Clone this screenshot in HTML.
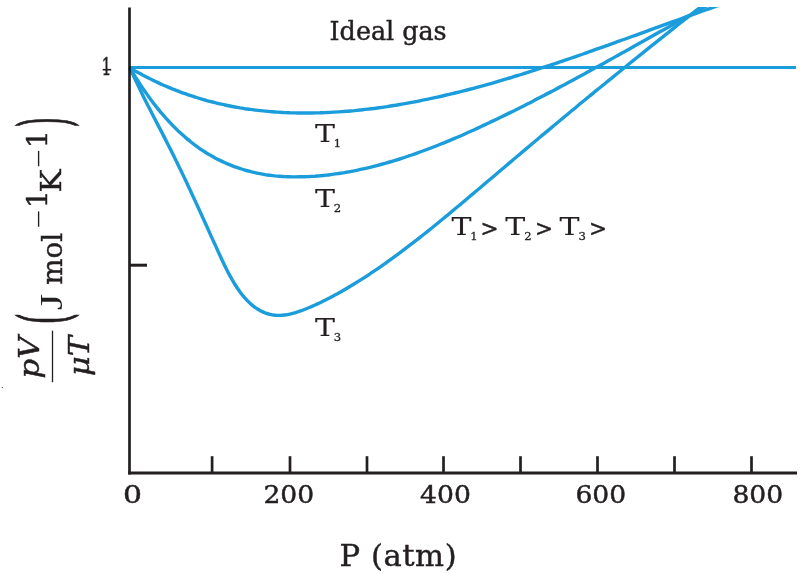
<!DOCTYPE html>
<html><head><meta charset="utf-8"><title>Compressibility</title>
<style>
html,body{margin:0;padding:0;background:#fff;}
svg{display:block;}
text{font-family:"DejaVu Serif", "Liberation Serif", serif;fill:#231f20;stroke:#231f20;stroke-width:0.45px;}
</style></head><body>
<svg width="804" height="574" viewBox="0 0 804 574">
<rect width="804" height="574" fill="#fff"/>
<defs><clipPath id="cl"><rect x="120" y="7" width="690" height="500"/></clipPath></defs>
<g>
<line x1="129.5" y1="7.5" x2="129.5" y2="474.6" stroke="#231f20" stroke-width="2.7"/>
<line x1="128.2" y1="473.1" x2="797" y2="473.1" stroke="#231f20" stroke-width="3"/>
<line x1="129" y1="265.2" x2="147" y2="265.2" stroke="#231f20" stroke-width="3"/>
<line x1="212.1" y1="456.2" x2="212.1" y2="473" stroke="#231f20" stroke-width="2.7"/><line x1="290.0" y1="456.2" x2="290.0" y2="473" stroke="#231f20" stroke-width="2.7"/><line x1="367.0" y1="456.2" x2="367.0" y2="473" stroke="#231f20" stroke-width="2.7"/><line x1="443.5" y1="456.2" x2="443.5" y2="473" stroke="#231f20" stroke-width="2.7"/><line x1="520.5" y1="456.2" x2="520.5" y2="473" stroke="#231f20" stroke-width="2.7"/><line x1="597.5" y1="456.2" x2="597.5" y2="473" stroke="#231f20" stroke-width="2.7"/><line x1="674.5" y1="456.2" x2="674.5" y2="473" stroke="#231f20" stroke-width="2.7"/><line x1="751.5" y1="456.2" x2="751.5" y2="473" stroke="#231f20" stroke-width="2.7"/>
</g>
<g fill="none" stroke="#1c9ddb" stroke-width="3.4" clip-path="url(#cl)" stroke-linecap="butt" style="mix-blend-mode:multiply">
<line x1="129.2" y1="67.5" x2="796" y2="67.5" stroke-width="3"/>
<path d="M130.0 68.0 C130.8 68.5 133.3 69.9 135.0 70.9 C136.7 71.8 138.3 72.7 140.0 73.6 C141.7 74.5 143.3 75.4 145.0 76.3 C146.7 77.1 148.3 78.0 150.0 78.8 C151.7 79.6 153.3 80.5 155.0 81.2 C156.7 82.0 158.3 82.8 160.0 83.6 C161.7 84.3 163.3 85.1 165.0 85.8 C166.7 86.5 168.3 87.2 170.0 87.9 C171.7 88.6 173.3 89.3 175.0 89.9 C176.7 90.6 178.3 91.2 180.0 91.9 C181.7 92.5 183.3 93.1 185.0 93.7 C186.7 94.3 188.3 94.8 190.0 95.4 C191.7 96.0 193.3 96.5 195.0 97.0 C196.7 97.6 198.3 98.1 200.0 98.6 C201.7 99.1 203.3 99.6 205.0 100.0 C206.7 100.5 208.3 101.0 210.0 101.4 C211.7 101.9 213.3 102.3 215.0 102.7 C216.7 103.1 218.3 103.5 220.0 103.9 C221.7 104.3 223.3 104.6 225.0 105.0 C226.7 105.4 228.3 105.7 230.0 106.0 C231.7 106.4 233.3 106.7 235.0 107.0 C236.7 107.3 238.3 107.6 240.0 107.9 C241.7 108.1 243.3 108.4 245.0 108.7 C246.7 108.9 248.3 109.2 250.0 109.4 C251.7 109.6 253.3 109.8 255.0 110.1 C256.7 110.3 258.3 110.5 260.0 110.6 C261.7 110.8 263.3 111.0 265.0 111.1 C266.7 111.3 268.3 111.5 270.0 111.6 C271.7 111.7 273.3 111.9 275.0 112.0 C276.7 112.1 278.3 112.2 280.0 112.3 C281.7 112.4 283.3 112.5 285.0 112.6 C286.7 112.6 288.3 112.7 290.0 112.8 C291.7 112.8 293.3 112.9 295.0 112.9 C296.7 112.9 298.3 113.0 300.0 113.0 C301.7 113.0 303.3 113.0 305.0 113.0 C306.7 113.0 308.3 113.0 310.0 113.0 C311.7 113.0 313.3 112.9 315.0 112.9 C316.7 112.9 318.3 112.8 320.0 112.8 C321.7 112.7 323.3 112.7 325.0 112.6 C326.7 112.5 327.8 112.5 330.0 112.4 C332.2 112.3 335.4 112.1 338.2 111.9 C340.9 111.7 343.6 111.5 346.3 111.3 C349.0 111.1 351.8 110.8 354.5 110.6 C357.2 110.3 359.9 110.0 362.7 109.7 C365.4 109.5 368.1 109.1 370.8 108.8 C373.5 108.5 376.3 108.1 379.0 107.7 C381.7 107.4 384.4 107.0 387.1 106.6 C389.9 106.1 392.6 105.7 395.3 105.3 C398.0 104.8 400.7 104.4 403.5 103.9 C406.2 103.4 408.9 102.9 411.6 102.4 C414.4 101.9 417.1 101.4 419.8 100.8 C422.5 100.3 425.2 99.7 428.0 99.1 C430.7 98.6 433.4 98.0 436.1 97.4 C438.8 96.8 441.6 96.2 444.3 95.5 C447.0 94.9 449.7 94.3 452.4 93.6 C455.2 92.9 457.9 92.3 460.6 91.6 C463.3 90.9 466.1 90.2 468.8 89.5 C471.5 88.8 474.2 88.1 476.9 87.3 C479.7 86.6 482.4 85.8 485.1 85.1 C487.8 84.3 490.5 83.6 493.3 82.8 C496.0 82.0 498.7 81.2 501.4 80.4 C504.1 79.6 506.9 78.8 509.6 78.0 C512.3 77.2 515.0 76.3 517.8 75.5 C520.5 74.7 523.2 73.8 525.9 73.0 C528.6 72.1 531.4 71.3 534.1 70.4 C536.8 69.5 539.5 68.6 542.2 67.7 C545.0 66.9 547.7 66.0 550.4 65.1 C553.1 64.2 555.9 63.3 558.6 62.3 C561.3 61.4 564.0 60.5 566.7 59.6 C569.5 58.7 572.2 57.7 574.9 56.8 C577.6 55.9 580.3 54.9 583.1 54.0 C585.8 53.0 588.5 52.1 591.2 51.1 C593.9 50.2 596.7 49.2 599.4 48.2 C602.1 47.3 604.8 46.3 607.6 45.3 C610.3 44.4 613.0 43.4 615.7 42.4 C618.4 41.4 621.2 40.5 623.9 39.5 C626.6 38.5 629.3 37.5 632.0 36.5 C634.8 35.6 637.5 34.6 640.2 33.6 C642.9 32.6 645.6 31.6 648.4 30.6 C651.1 29.6 653.8 28.7 656.5 27.7 C659.3 26.7 662.0 25.7 664.7 24.7 C667.4 23.7 670.1 22.7 672.9 21.7 C675.6 20.8 678.3 19.8 681.0 18.8 C683.7 17.8 686.5 16.8 689.2 15.9 C691.9 14.9 694.6 13.9 697.3 12.9 C700.1 12.0 702.8 11.0 705.5 10.0 C708.2 9.1 711.0 8.1 713.7 7.2 C716.4 6.2 719.1 5.2 721.8 4.3 C724.6 3.3 728.6 1.9 730.0 1.5"/>
<path d="M130.0 68.0 C130.8 69.4 133.3 73.6 135.0 76.3 C136.7 78.9 138.3 81.5 140.0 84.1 C141.7 86.6 143.3 89.1 145.0 91.5 C146.7 93.9 148.3 96.2 150.0 98.5 C151.7 100.8 153.3 103.0 155.0 105.1 C156.7 107.2 158.3 109.3 160.0 111.3 C161.7 113.3 163.3 115.3 165.0 117.2 C166.7 119.0 168.3 120.9 170.0 122.6 C171.7 124.4 173.3 126.1 175.0 127.8 C176.7 129.4 178.3 131.0 180.0 132.6 C181.7 134.1 183.3 135.6 185.0 137.1 C186.7 138.5 188.3 139.9 190.0 141.2 C191.7 142.6 193.3 143.9 195.0 145.1 C196.7 146.4 198.3 147.5 200.0 148.7 C201.7 149.8 203.3 150.9 205.0 152.0 C206.7 153.1 208.3 154.1 210.0 155.1 C211.7 156.0 213.3 157.0 215.0 157.9 C216.7 158.8 218.3 159.6 220.0 160.4 C221.7 161.2 223.3 162.0 225.0 162.8 C226.7 163.5 228.3 164.2 230.0 164.9 C231.7 165.6 233.3 166.2 235.0 166.8 C236.7 167.4 238.3 168.0 240.0 168.5 C241.7 169.1 243.3 169.6 245.0 170.1 C246.7 170.6 248.3 171.0 250.0 171.4 C251.7 171.9 253.3 172.3 255.0 172.6 C256.7 173.0 258.3 173.4 260.0 173.7 C261.7 174.0 263.3 174.3 265.0 174.6 C266.7 174.8 268.3 175.1 270.0 175.3 C271.7 175.5 273.3 175.7 275.0 175.9 C276.7 176.0 278.3 176.2 280.0 176.3 C281.7 176.4 283.3 176.5 285.0 176.6 C286.7 176.7 288.3 176.8 290.0 176.8 C291.7 176.8 293.3 176.9 295.0 176.9 C296.7 176.9 298.3 176.9 300.0 176.8 C301.7 176.8 303.3 176.8 305.0 176.7 C306.7 176.6 308.3 176.6 310.0 176.5 C311.7 176.4 313.3 176.3 315.0 176.2 C316.7 176.0 318.3 175.9 320.0 175.8 C321.7 175.6 323.3 175.4 325.0 175.3 C326.7 175.1 327.8 175.0 330.0 174.7 C332.2 174.4 335.3 174.0 338.0 173.6 C340.6 173.2 343.3 172.8 345.9 172.3 C348.6 171.9 351.2 171.4 353.9 170.9 C356.5 170.3 359.2 169.8 361.8 169.2 C364.5 168.6 367.1 168.0 369.8 167.4 C372.4 166.7 375.1 166.0 377.8 165.3 C380.4 164.6 383.1 163.9 385.7 163.2 C388.4 162.4 391.0 161.6 393.7 160.8 C396.3 160.0 399.0 159.2 401.6 158.3 C404.3 157.5 406.9 156.6 409.6 155.7 C412.2 154.8 414.9 153.9 417.6 152.9 C420.2 152.0 422.9 151.0 425.5 150.0 C428.2 149.0 430.8 148.0 433.5 147.0 C436.1 146.0 438.8 144.9 441.4 143.8 C444.1 142.8 446.7 141.7 449.4 140.6 C452.0 139.5 454.7 138.3 457.3 137.2 C460.0 136.1 462.7 134.9 465.3 133.7 C468.0 132.6 470.6 131.4 473.3 130.2 C475.9 129.0 478.6 127.7 481.2 126.5 C483.9 125.3 486.5 124.0 489.2 122.8 C491.8 121.5 494.5 120.3 497.1 119.0 C499.8 117.7 502.4 116.4 505.1 115.1 C507.8 113.8 510.4 112.5 513.1 111.2 C515.7 109.9 518.4 108.5 521.0 107.2 C523.7 105.9 526.3 104.5 529.0 103.2 C531.6 101.8 534.3 100.5 536.9 99.1 C539.6 97.7 542.2 96.3 544.9 94.9 C547.6 93.6 550.2 92.2 552.9 90.8 C555.5 89.4 558.2 88.0 560.8 86.5 C563.5 85.1 566.1 83.7 568.8 82.3 C571.4 80.9 574.1 79.4 576.7 78.0 C579.4 76.5 582.0 75.1 584.7 73.7 C587.3 72.2 590.0 70.8 592.7 69.3 C595.3 67.8 598.0 66.4 600.6 64.9 C603.3 63.5 605.9 62.0 608.6 60.5 C611.2 59.1 613.9 57.6 616.5 56.1 C619.2 54.6 621.8 53.1 624.5 51.7 C627.1 50.2 629.8 48.7 632.4 47.2 C635.1 45.7 637.8 44.2 640.4 42.8 C643.1 41.3 645.7 39.8 648.4 38.3 C651.0 36.8 653.7 35.3 656.3 33.8 C659.0 32.3 661.6 30.9 664.3 29.4 C666.9 27.9 669.6 26.4 672.2 24.9 C674.9 23.4 677.6 21.9 680.2 20.5 C682.9 19.0 685.5 17.5 688.2 16.0 C690.8 14.6 693.5 13.1 696.1 11.6 C698.8 10.1 701.4 8.7 704.1 7.2 C706.7 5.7 709.4 4.3 712.0 2.8 C714.7 1.4 718.7 -0.8 720.0 -1.6"/>
<path d="M130.0 68.0 C130.8 69.8 133.3 75.4 135.0 79.0 C136.7 82.6 138.3 86.1 140.0 89.5 C141.7 93.0 143.3 96.3 145.0 99.7 C146.7 103.0 148.3 106.3 150.0 109.6 C151.7 112.8 153.3 116.1 155.0 119.3 C156.7 122.5 158.3 125.7 160.0 128.9 C161.7 132.1 163.3 135.3 165.0 138.6 C166.7 141.8 168.3 145.1 170.0 148.4 C171.7 151.7 173.3 155.0 175.0 158.4 C176.7 161.8 178.3 165.2 180.0 168.7 C181.7 172.1 183.3 175.6 185.0 179.1 C186.7 182.6 188.3 186.2 190.0 189.8 C191.7 193.4 193.3 197.0 195.0 200.6 C196.7 204.2 198.3 207.9 200.0 211.5 C201.7 215.2 203.3 218.8 205.0 222.5 C206.7 226.2 208.3 229.9 210.0 233.6 C211.7 237.3 213.3 241.0 215.0 244.6 C216.7 248.3 218.3 252.0 220.0 255.6 C221.7 259.2 223.3 262.8 225.0 266.1 C226.7 269.5 228.3 272.8 230.0 275.9 C231.7 278.9 233.3 281.8 235.0 284.5 C236.7 287.2 238.3 289.6 240.0 291.9 C241.7 294.2 243.3 296.2 245.0 298.1 C246.7 300.0 248.3 301.7 250.0 303.2 C251.7 304.8 253.3 306.1 255.0 307.4 C256.7 308.6 258.3 309.6 260.0 310.5 C261.7 311.5 263.3 312.2 265.0 312.9 C266.7 313.5 268.3 314.0 270.0 314.4 C271.7 314.8 273.3 315.0 275.0 315.2 C276.7 315.4 278.3 315.4 280.0 315.4 C281.7 315.4 283.3 315.2 285.0 315.0 C286.7 314.8 288.3 314.5 290.0 314.1 C291.7 313.8 293.3 313.3 295.0 312.8 C296.7 312.3 298.3 311.8 300.0 311.2 C301.7 310.6 303.3 310.0 305.0 309.3 C306.7 308.6 308.3 307.9 310.0 307.2 C311.7 306.5 313.3 305.7 315.0 305.0 C316.7 304.2 318.3 303.5 320.0 302.7 C321.7 301.9 323.3 301.0 325.0 300.2 C326.7 299.4 327.9 298.8 330.0 297.7 C332.1 296.5 335.2 294.9 337.9 293.5 C340.5 292.0 343.1 290.5 345.7 289.0 C348.3 287.5 351.0 285.9 353.6 284.3 C356.2 282.7 358.8 281.1 361.4 279.4 C364.0 277.8 366.7 276.1 369.3 274.3 C371.9 272.6 374.5 270.8 377.1 269.1 C379.8 267.3 382.4 265.4 385.0 263.6 C387.6 261.7 390.2 259.8 392.9 257.9 C395.5 256.0 398.1 254.1 400.7 252.2 C403.3 250.2 406.0 248.2 408.6 246.2 C411.2 244.2 413.8 242.2 416.4 240.2 C419.0 238.1 421.7 236.1 424.3 234.0 C426.9 231.9 429.5 229.8 432.1 227.7 C434.8 225.6 437.4 223.5 440.0 221.3 C442.6 219.2 445.2 217.0 447.9 214.9 C450.5 212.7 453.1 210.5 455.7 208.3 C458.3 206.2 461.0 204.0 463.6 201.8 C466.2 199.6 468.8 197.4 471.4 195.1 C474.0 192.9 476.7 190.7 479.3 188.5 C481.9 186.3 484.5 184.1 487.1 181.8 C489.8 179.6 492.4 177.4 495.0 175.2 C497.6 172.9 500.2 170.7 502.9 168.5 C505.5 166.3 508.1 164.1 510.7 161.9 C513.3 159.6 516.0 157.4 518.6 155.2 C521.2 153.0 523.8 150.8 526.4 148.6 C529.0 146.4 531.7 144.2 534.3 142.0 C536.9 139.8 539.5 137.6 542.1 135.4 C544.8 133.2 547.4 131.1 550.0 128.9 C552.6 126.7 555.2 124.5 557.9 122.3 C560.5 120.2 563.1 118.0 565.7 115.8 C568.3 113.6 571.0 111.5 573.6 109.3 C576.2 107.1 578.8 105.0 581.4 102.8 C584.0 100.7 586.7 98.5 589.3 96.3 C591.9 94.2 594.5 92.0 597.1 89.9 C599.8 87.8 602.4 85.6 605.0 83.5 C607.6 81.3 610.2 79.2 612.9 77.1 C615.5 74.9 618.1 72.8 620.7 70.7 C623.3 68.6 626.0 66.4 628.6 64.3 C631.2 62.2 633.8 60.1 636.4 58.0 C639.0 55.9 641.7 53.8 644.3 51.7 C646.9 49.6 649.5 47.5 652.1 45.4 C654.8 43.3 657.4 41.2 660.0 39.1 C662.6 37.0 665.2 34.9 667.9 32.8 C670.5 30.8 673.1 28.7 675.7 26.6 C678.3 24.5 681.0 22.5 683.6 20.4 C686.2 18.3 688.8 16.3 691.4 14.2 C694.0 12.2 696.7 10.1 699.3 8.1 C701.9 6.0 704.5 4.0 707.1 2.0 C709.8 -0.1 713.7 -3.1 715.0 -4.1"/>
</g>
<text x="329.6" y="40" font-size="25.4">Ideal gas</text>
<text x="123.1" y="503" font-size="24.4" textLength="19" lengthAdjust="spacingAndGlyphs">0</text>
<text x="263.4" y="503" font-size="24.4" textLength="50.8" lengthAdjust="spacingAndGlyphs">200</text>
<text x="420.1" y="503" font-size="24.4" textLength="50.8" lengthAdjust="spacingAndGlyphs">400</text>
<text x="575.4" y="503" font-size="24.4" textLength="50.8" lengthAdjust="spacingAndGlyphs">600</text>
<text x="732.4" y="503" font-size="24.4" textLength="50.8" lengthAdjust="spacingAndGlyphs">800</text>
<text x="339.6" y="565.5" font-size="30.6" letter-spacing="0.55">P (atm)</text>
<text x="314.9" y="142.1" font-size="24" textLength="20" lengthAdjust="spacingAndGlyphs" style="stroke-width:0.1px">T</text><text x="333.8" y="147.3" font-size="11.6" style="stroke-width:0.3px">1</text>
<text x="314.9" y="206.7" font-size="24" textLength="20" lengthAdjust="spacingAndGlyphs" style="stroke-width:0.1px">T</text><text x="333.8" y="211.9" font-size="11.6" style="stroke-width:0.3px">2</text>
<text x="314.9" y="335.5" font-size="24" textLength="20" lengthAdjust="spacingAndGlyphs" style="stroke-width:0.1px">T</text><text x="333.8" y="340.7" font-size="11.6" style="stroke-width:0.3px">3</text>
<text x="451.4" y="235.1" font-size="24" textLength="20" lengthAdjust="spacingAndGlyphs" style="stroke-width:0.1px">T</text><text x="470.3" y="240.3" font-size="11.6" style="stroke-width:0.3px">1</text><text x="480.6" y="235.6" font-size="21.5">&gt;</text>
<text x="505.3" y="235.1" font-size="24" textLength="20" lengthAdjust="spacingAndGlyphs" style="stroke-width:0.1px">T</text><text x="524.2" y="240.3" font-size="11.6" style="stroke-width:0.3px">2</text><text x="535" y="235.6" font-size="21.5">&gt;</text>
<text x="559.6" y="235.1" font-size="24" textLength="20" lengthAdjust="spacingAndGlyphs" style="stroke-width:0.1px">T</text><text x="578.5" y="240.3" font-size="11.6" style="stroke-width:0.3px">3</text><text x="588.9" y="235.6" font-size="21.5">&gt;</text>
<text x="101.5" y="75.2" font-size="24.7" textLength="10" lengthAdjust="spacingAndGlyphs">1</text>
<line x1="102.7" y1="69.7" x2="111.2" y2="69.7" stroke="#231f20" stroke-width="1.6"/>
<g>
<text transform="translate(62,310.2) rotate(-90)" font-size="31" textLength="16.5" lengthAdjust="spacingAndGlyphs" style="font-family:'Liberation Serif',serif;stroke-width:0">J</text>
<text transform="translate(62,284.8) rotate(-90)" font-size="27" textLength="52" lengthAdjust="spacingAndGlyphs">mol</text>
<text transform="translate(43.8,229.4) rotate(-90) scale(1,0.7)" font-size="24.6" style="stroke-width:0">−</text>
<text transform="translate(46.6,208.2) rotate(-90)" font-size="28.6">1</text>
<text transform="translate(61.4,192.4) rotate(-90)" font-size="27" textLength="23" lengthAdjust="spacingAndGlyphs">K</text>
<text transform="translate(43.8,169.1) rotate(-90) scale(1,0.7)" font-size="24.6" style="stroke-width:0">−</text>
<text transform="translate(46.6,148.2) rotate(-90)" font-size="28.6">1</text>
<text transform="translate(38.6,378.6) rotate(-90)" font-size="28" textLength="42" lengthAdjust="spacingAndGlyphs" font-style="italic">pV</text>
<text transform="translate(88.5,376) rotate(-90)" font-size="28" textLength="40" lengthAdjust="spacingAndGlyphs" font-style="italic">μT</text>
<line x1="52.5" y1="330.7" x2="52.5" y2="382.2" stroke="#231f20" stroke-width="1.3"/>
<text transform="translate(67.8,324.3) rotate(-90) scale(0.42,1)" font-size="69" style="stroke-width:1px;vector-effect:non-scaling-stroke">(</text>
<text transform="translate(67.8,127.5) rotate(-90) scale(0.39,1)" font-size="69" style="stroke-width:1px;vector-effect:non-scaling-stroke">)</text>
<circle cx="2.4" cy="387.6" r="0.7" fill="#555"/>
</g>
</svg>
</body></html>
